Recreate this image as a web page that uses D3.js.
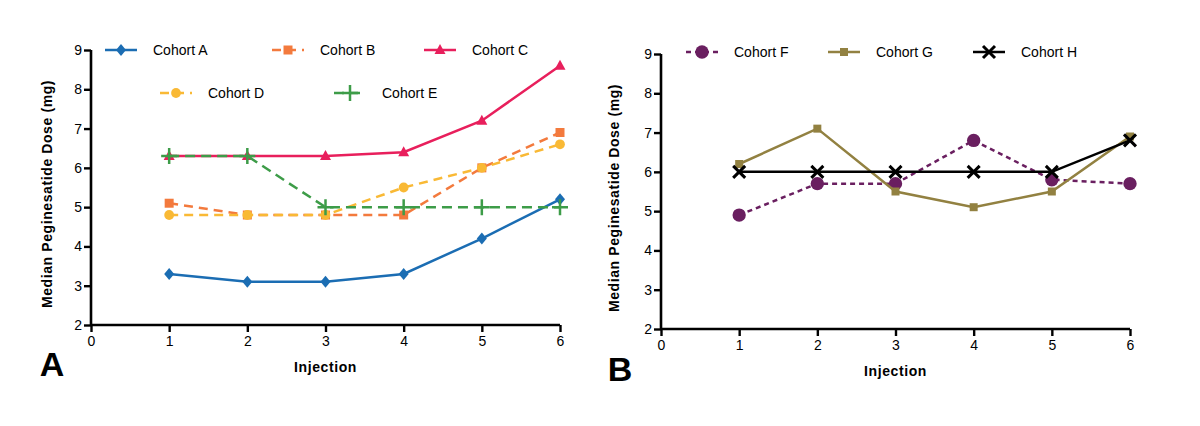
<!DOCTYPE html>
<html>
<head>
<meta charset="utf-8">
<script src="https://cdn.jsdelivr.net/npm/d3@7/dist/d3.min.js"></script>
<style>
  body { margin: 0; background: #fff; }
  text { font-family: "Liberation Sans", Arial, Helvetica, sans-serif; fill: #000; }
</style>
</head>
<body>
<svg id="chart" width="1200" height="426"></svg>
<script>
// Data
const injections = [1, 2, 3, 4, 5, 6];
const xTicks = [0, 1, 2, 3, 4, 5, 6];
const yTicks = [2, 3, 4, 5, 6, 7, 8, 9];

const cohortA = [3.3, 3.1, 3.1, 3.3, 4.2, 5.2];
const cohortB = [5.1, 4.8, 4.8, 4.8, 6.0, 6.9];
const cohortC = [6.3, 6.3, 6.3, 6.4, 7.2, 8.6];
const cohortD = [4.8, 4.8, 4.8, 5.5, 6.0, 6.6];
const cohortE = [6.3, 6.3, 5.0, 5.0, 5.0, 5.0];
const cohortF = [4.9, 5.7, 5.7, 6.8, 5.8, 5.7];
const cohortG = [6.2, 7.1, 5.5, 5.1, 5.5, 6.9];
const cohortH = [6.0, 6.0, 6.0, 6.0, 6.0, 6.8];

const svg = d3.select("#chart");

// marker path builders (centered at 0,0)
const markers = {
    diamond: () => "M0,-6L5,0L0,6L-5,0Z",
    square: () => "M-4.5,-4.5H4.5V4.5H-4.5Z",
    smallSquare: () => "M-4,-4H4V4H-4Z",
    triangle: () => "M0,-6L5.5,4L-5.5,4Z",
    circle: () => d3.symbol().type(d3.symbolCircle).size(75)(),
    bigCircle: () => d3.symbol().type(d3.symbolCircle).size(140)(),
    plus: () => "M-8,0H8M0,-8V8",
    cross: () => "M-6,-6L6,6M-6,6L6,-6"
};
const strokeMarkers = new Set(["plus", "cross"]);

function drawMarker(g, type, color, x, y) {
    const p = g.append("path")
        .attr("d", markers[type]())
        .attr("transform", `translate(${x},${y})`);
    if (strokeMarkers.has(type)) {
        p.attr("fill", "none").attr("stroke", color)
            .attr("stroke-width", type === "cross" ? 3 : 2.5);
    } else {
        p.attr("fill", color);
    }
}

function drawPanel(cfg) {
    const x = d3.scaleLinear().domain([0, 6]).range(cfg.xRange);
    const y = d3.scaleLinear().domain([2, 9]).range(cfg.yRange);
    const g = svg.append("g");

    // axes
    const xAxis = g.append("g")
        .attr("transform", `translate(0,${cfg.yRange[0]})`)
        .call(d3.axisBottom(x).tickValues(xTicks).tickSize(7).tickPadding(4).tickFormat(d3.format("d")));
    const yAxis = g.append("g")
        .attr("transform", `translate(${cfg.xRange[0]},0)`)
        .call(d3.axisLeft(y).tickValues(yTicks).tickSize(7).tickPadding(2).tickFormat(d3.format("d")));
    [xAxis, yAxis].forEach(a => {
        a.select(".domain").attr("stroke", "#000").attr("stroke-width", 2.6);
        a.selectAll(".tick line").attr("stroke", "#000").attr("stroke-width", 2.4);
        a.selectAll(".tick text").style("font-size", "14px").attr("fill", "#000");
    });
    // plain axis lines, no end stubs
    xAxis.select(".domain").attr("d", `M${cfg.xRange[0]},0H${cfg.xRange[1]}`);
    yAxis.select(".domain").attr("d", `M0,${cfg.yRange[0]}V${cfg.yRange[1]}`);

    // axis titles
    g.append("text")
        .attr("x", (cfg.xRange[0] + cfg.xRange[1]) / 2)
        .attr("y", cfg.yRange[0] + 47)
        .attr("text-anchor", "middle")
        .style("font-size", "14px").style("font-weight", "bold")
        .style("letter-spacing", "0.6px")
        .text("Injection");
    g.append("text")
        .attr("transform", `translate(${cfg.yTitleX},${cfg.yTitleY}) rotate(-90)`)
        .attr("text-anchor", "middle")
        .style("font-size", "14px").style("font-weight", "bold")
        .style("letter-spacing", "0.6px")
        .text("Median Peginesatide Dose (mg)");

    // panel letter
    g.append("text")
        .attr("x", cfg.letterX).attr("y", cfg.letterY)
        .attr("text-anchor", "middle")
        .style("font-size", "34px").style("font-weight", "bold")
        .text(cfg.letter);

    // series
    const line = d3.line().x(d => x(d.x)).y(d => y(d.y));
    cfg.series.forEach(s => {
        const pts = injections.map((inj, i) => ({ x: inj, y: s.values[i] }));
        g.append("path")
            .datum(pts)
            .attr("d", line)
            .attr("fill", "none")
            .attr("stroke", s.color)
            .attr("stroke-width", 2.5)
            .attr("stroke-dasharray", s.dash || null);
        pts.forEach(p => drawMarker(g, s.marker, s.color, x(p.x), y(p.y)));

        // legend entry
        const lg = g.append("g").attr("transform", `translate(${s.lx},${s.ly})`);
        lg.append("line")
            .attr("x1", 0).attr("x2", 32).attr("y1", 0).attr("y2", 0)
            .attr("stroke", s.color).attr("stroke-width", 2.5)
            .attr("stroke-dasharray", s.dash || null);
        drawMarker(lg, s.marker, s.color, 16, 0);
        lg.append("text")
            .attr("x", 48).attr("y", 5)
            .style("font-size", "14px")
            .text(s.name);
    });
}

drawPanel({
    letter: "A", letterX: 52, letterY: 376,
    xRange: [91, 560], yRange: [325, 50],
    yTitleX: 52, yTitleY: 194,
    series: [
        { name: "Cohort A", values: cohortA, color: "#1b6db3", marker: "diamond", lx: 105, ly: 50 },
        { name: "Cohort B", values: cohortB, color: "#f37a3d", marker: "square", dash: "9,6", lx: 272, ly: 50 },
        { name: "Cohort C", values: cohortC, color: "#e81f5c", marker: "triangle", lx: 424, ly: 50 },
        { name: "Cohort D", values: cohortD, color: "#f9b935", marker: "circle", dash: "9,6", lx: 160, ly: 93 },
        { name: "Cohort E", values: cohortE, color: "#3d9c48", marker: "plus", dash: "10,6", lx: 334, ly: 93 }
    ]
});

drawPanel({
    letter: "B", letterX: 620, letterY: 381,
    xRange: [661, 1130], yRange: [329, 54],
    yTitleX: 619, yTitleY: 198,
    series: [
        { name: "Cohort F", values: cohortF, color: "#6a1f60", marker: "bigCircle", dash: "5,4", lx: 686, ly: 52 },
        { name: "Cohort G", values: cohortG, color: "#928141", marker: "smallSquare", lx: 828, ly: 52 },
        { name: "Cohort H", values: cohortH, color: "#000000", marker: "cross", lx: 973, ly: 52 }
    ]
});
</script>
</body>
</html>
